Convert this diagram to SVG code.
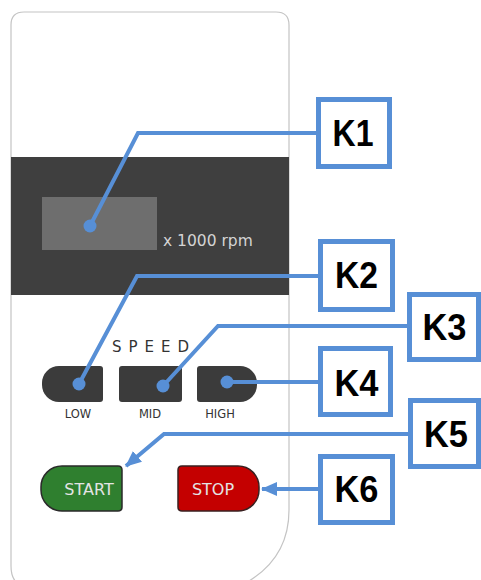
<svg xmlns="http://www.w3.org/2000/svg" width="481" height="580" viewBox="0 0 481 580">
<style>
.lbl{font-family:"Liberation Sans",Arial,sans-serif;font-weight:bold;font-size:37px;fill:#000;text-anchor:middle}
.box{fill:#fff;stroke:#578fd6;stroke-width:5}
.con{fill:none;stroke:#578fd6;stroke-width:4;stroke-linejoin:miter}
.dot{fill:#578fd6}
.btxt{font-family:"DejaVu Sans",Verdana,sans-serif;font-size:11.5px;fill:#333;text-anchor:middle}
.ptxt{font-family:"DejaVu Sans",Verdana,sans-serif;font-size:16px;fill:#e4e4e4;text-anchor:middle}
.sp{fill:#3b3b3b}
</style>
<defs>
<marker id="ah" markerUnits="userSpaceOnUse" markerWidth="18" markerHeight="16" refX="15" refY="7" orient="auto">
<path d="M0,0 L16,7 L0,14 Z" fill="#578fd6"/>
</marker>
</defs>
<rect width="481" height="580" fill="#fff"/>
<g id="panel">
<path d="M11,25 Q11,12 24,12 H276 Q289,12 289,25 V510 C289,545 272,570 240,586 H28 Q11,586 11,566 Z" fill="#fff" stroke="#c4c4c4" stroke-width="1.2"/>
<rect x="11" y="157" width="278" height="138" fill="#3f3f3f"/>
<rect id="display" x="42" y="197" width="115" height="53" fill="#6e6e6e"/>
<text x="163" y="246" font-family="DejaVu Sans,Verdana,sans-serif" font-size="15.5" fill="#d4d4d4">x 1000 rpm</text>
<text x="112" y="352" font-family="DejaVu Sans,Verdana,sans-serif" font-size="15" fill="#333" letter-spacing="7">SPEED</text>
</g>
<g id="btn-low">
<path class="sp" d="M59,366 H100 Q103,366 103,369 V399 Q103,402 100,402 H59 A17 17 0 0 1 42 385 V383 A17 17 0 0 1 59 366 Z"/>
<text class="btxt" x="78" y="418">LOW</text>
</g>
<g id="btn-mid">
<rect class="sp" x="119" y="366" width="63" height="36" rx="3"/>
<text class="btxt" x="150" y="418">MID</text>
</g>
<g id="btn-high">
<path class="sp" d="M200,366 H240 A17 17 0 0 1 257 383 V385 A17 17 0 0 1 240 402 H200 Q197,402 197,399 V369 Q197,366 200,366 Z"/>
<text class="btxt" x="220" y="418">HIGH</text>
</g>
<g id="btn-start">
<path d="M62,466 H118 Q122,466 122,470 V507 Q122,511 118,511 H62 A21 21 0 0 1 41 490 V487 A21 21 0 0 1 62 466 Z" fill="#2f7f2f" stroke="#2a2a2a" stroke-width="1.5"/>
<text class="ptxt" x="89" y="495">START</text>
</g>
<g id="btn-stop">
<path d="M182,466 H238 A21 21 0 0 1 259 487 V490 A21 21 0 0 1 238 511 H182 Q178,511 178,507 V470 Q178,466 182,466 Z" fill="#c40000" stroke="#3a2020" stroke-width="1.5"/>
<text class="ptxt" x="213" y="495">STOP</text>
</g>
<g id="connectors">
<polyline class="con" points="90,226 138,133 318,133"/>
<circle class="dot" cx="90" cy="226" r="6.5"/>
<polyline class="con" points="79,384 137,276 320,276"/>
<circle class="dot" cx="79" cy="384" r="6.5"/>
<polyline class="con" points="163,386 218,326 409,326"/>
<circle class="dot" cx="163" cy="386" r="6.5"/>
<polyline class="con" points="227,382 320,382"/>
<circle class="dot" cx="227" cy="382" r="6.5"/>
<polyline class="con" points="410,434 164,434 126,466" marker-end="url(#ah)"/>
<polyline class="con" points="320,489 262,489" marker-end="url(#ah)"/>
</g>
<g id="K1"><rect class="box" x="318.5" y="99.5" width="71" height="67"/><text class="lbl" x="353" y="146" textLength="41" lengthAdjust="spacingAndGlyphs">K1</text></g>
<g id="K2"><rect class="box" x="320.5" y="241.5" width="72" height="68"/><text class="lbl" x="356.5" y="288" textLength="43" lengthAdjust="spacingAndGlyphs">K2</text></g>
<g id="K3"><rect class="box" x="409.5" y="294.5" width="69" height="65"/><text class="lbl" x="444.5" y="340" textLength="44" lengthAdjust="spacingAndGlyphs">K3</text></g>
<g id="K4"><rect class="box" x="320.5" y="348.5" width="70" height="66"/><text class="lbl" x="356.5" y="396" textLength="44" lengthAdjust="spacingAndGlyphs">K4</text></g>
<g id="K5"><rect class="box" x="410.5" y="400.5" width="68" height="66"/><text class="lbl" x="446" y="447" textLength="44" lengthAdjust="spacingAndGlyphs">K5</text></g>
<g id="K6"><rect class="box" x="320.5" y="456.5" width="72" height="66"/><text class="lbl" x="356.5" y="502" textLength="44" lengthAdjust="spacingAndGlyphs">K6</text></g>
</svg>
